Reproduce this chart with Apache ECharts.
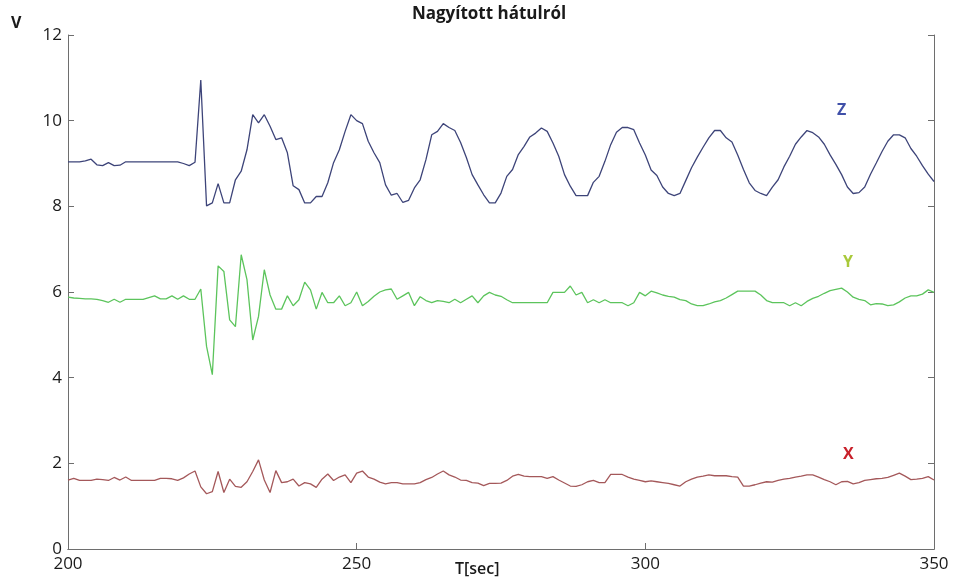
<!DOCTYPE html>
<html>
<head>
<meta charset="utf-8">
<script src="https://cdn.jsdelivr.net/npm/echarts@6/dist/echarts.min.js"></script>
<style>
  html, body { margin: 0; padding: 0; background: #fff; }
  #chart { width: 960px; height: 583px; }
</style>
</head>
<body>
<div id="chart"></div>
<script>
// Sampling grid: one reading per second
const tStart = 200;
const tStep = 1;

// Z channel (V)
const zValues = [
  9.04, 9.04, 9.04, 9.06, 9.10, 8.97, 8.95, 9.02, 8.95, 8.96,
  9.04, 9.04, 9.04, 9.04, 9.04, 9.04, 9.04, 9.04, 9.04, 9.04,
  9.00, 8.95, 9.03, 10.95, 8.01, 8.08, 8.53, 8.08, 8.08, 8.62,
  8.82, 9.32, 10.14, 9.95, 10.14, 9.87, 9.56, 9.60, 9.25, 8.48,
  8.39, 8.08, 8.08, 8.23, 8.23, 8.55, 9.02, 9.32, 9.75, 10.14,
  10.00, 9.93, 9.52, 9.25, 9.02, 8.50, 8.26, 8.30, 8.09, 8.14,
  8.43, 8.62, 9.09, 9.67, 9.75, 9.93, 9.84, 9.77, 9.49, 9.14,
  8.74, 8.50, 8.27, 8.08, 8.08, 8.31, 8.70, 8.86, 9.21, 9.40,
  9.62, 9.71, 9.83, 9.75, 9.48, 9.17, 8.74, 8.47, 8.25, 8.25,
  8.25, 8.56, 8.70, 9.05, 9.44, 9.73, 9.84, 9.84, 9.79, 9.48,
  9.20, 8.85, 8.72, 8.45, 8.30, 8.25, 8.30, 8.60, 8.90, 9.15,
  9.38, 9.60, 9.77, 9.77, 9.60, 9.50, 9.20, 8.86, 8.55, 8.37,
  8.30, 8.25, 8.45, 8.62, 8.92, 9.17, 9.45, 9.62, 9.77, 9.72,
  9.62, 9.45, 9.20, 8.98, 8.74, 8.45, 8.30, 8.32, 8.45, 8.75,
  9.01, 9.28, 9.52, 9.67, 9.67, 9.60, 9.35, 9.17, 8.95, 8.75,
  8.58
];

// Y channel (V)
const yValues = [
  5.88, 5.86, 5.85, 5.84, 5.84, 5.83, 5.80, 5.76, 5.83, 5.76,
  5.83, 5.83, 5.83, 5.83, 5.87, 5.91, 5.84, 5.84, 5.91, 5.83,
  5.91, 5.83, 5.83, 6.07, 4.73, 4.07, 6.61, 6.48, 5.35, 5.19,
  6.87, 6.29, 4.88, 5.43, 6.52, 5.93, 5.60, 5.60, 5.91, 5.68,
  5.82, 6.23, 6.05, 5.60, 5.99, 5.75, 5.75, 5.91, 5.68, 5.75,
  6.00, 5.68, 5.78, 5.90, 6.00, 6.05, 6.07, 5.83, 5.91, 5.99,
  5.68, 5.89, 5.80, 5.75, 5.80, 5.78, 5.75, 5.83, 5.75, 5.83,
  5.91, 5.75, 5.91, 5.99, 5.93, 5.90, 5.82, 5.75, 5.75, 5.75,
  5.75, 5.75, 5.75, 5.75, 5.99, 5.99, 5.99, 6.14, 5.93, 5.99,
  5.75, 5.82, 5.75, 5.82, 5.75, 5.75, 5.75, 5.68, 5.75, 5.99,
  5.91, 6.02, 5.98, 5.93, 5.90, 5.88, 5.82, 5.80, 5.72, 5.68,
  5.68, 5.72, 5.77, 5.80, 5.86, 5.94, 6.02, 6.02, 6.02, 6.02,
  5.93, 5.80, 5.75, 5.75, 5.75, 5.68, 5.75, 5.68, 5.78, 5.85,
  5.90, 5.97, 6.03, 6.06, 6.09, 6.00, 5.88, 5.83, 5.80, 5.70,
  5.73, 5.72, 5.68, 5.70, 5.77, 5.86, 5.91, 5.91, 5.95, 6.05,
  5.99
];

// X channel (V)
const xValues = [
  1.61, 1.65, 1.60, 1.60, 1.60, 1.63, 1.62, 1.60, 1.67, 1.61,
  1.68, 1.60, 1.60, 1.60, 1.60, 1.60, 1.65, 1.65, 1.64, 1.60,
  1.66, 1.75, 1.82, 1.45, 1.29, 1.34, 1.81, 1.32, 1.63, 1.46,
  1.44, 1.57, 1.81, 2.08, 1.61, 1.32, 1.83, 1.55, 1.57, 1.63,
  1.47, 1.55, 1.52, 1.44, 1.63, 1.75, 1.60, 1.68, 1.73, 1.55,
  1.77, 1.82, 1.68, 1.63, 1.56, 1.52, 1.55, 1.55, 1.52, 1.52,
  1.52, 1.55, 1.62, 1.67, 1.75, 1.82, 1.73, 1.68, 1.61, 1.60,
  1.55, 1.54, 1.48, 1.53, 1.53, 1.54, 1.60, 1.70, 1.74, 1.70,
  1.69, 1.69, 1.69, 1.65, 1.69, 1.61, 1.54, 1.47, 1.46, 1.50,
  1.57, 1.60, 1.55, 1.55, 1.74, 1.74, 1.74, 1.68, 1.63, 1.60,
  1.57, 1.59, 1.57, 1.55, 1.53, 1.50, 1.47, 1.57, 1.63, 1.68,
  1.70, 1.73, 1.71, 1.71, 1.71, 1.69, 1.68, 1.47, 1.47, 1.50,
  1.54, 1.57, 1.56, 1.60, 1.63, 1.65, 1.68, 1.70, 1.73, 1.73,
  1.68, 1.62, 1.57, 1.50, 1.57, 1.58, 1.52, 1.55, 1.60, 1.62,
  1.64, 1.65, 1.67, 1.72, 1.77, 1.70, 1.62, 1.63, 1.65, 1.69,
  1.61
];

// Axis settings
const xTicks = [200, 250, 300, 350];
const yMin = 0, yMax = 12, yStep = 2;

const FONT = '"Open Sans", "DejaVu Sans", sans-serif';
const AXIS_COLOR = '#6e6e6e';

function toPairs(values) {
  return values.map((v, i) => [tStart + i * tStep, v]);
}

const chart = echarts.init(document.getElementById('chart'), null, { renderer: 'canvas' });

chart.setOption({
  animation: false,
  backgroundColor: '#ffffff',
  title: {
    text: 'Nagyított hátulról',
    left: 484,
    top: 1,
    textAlign: 'center',
    textStyle: { fontFamily: FONT, fontSize: 17, fontWeight: 'bold', color: '#1a1a1a' }
  },
  grid: { left: 68, right: 26, top: 35, bottom: 34, containLabel: false },
  xAxis: [{
    type: 'value',
    min: xTicks[0],
    max: xTicks[xTicks.length - 1],
    interval: 50,
    position: 'bottom',
    axisLine: { show: true, lineStyle: { color: AXIS_COLOR, width: 1 } },
    axisTick: { show: true, inside: true, length: 6, lineStyle: { color: AXIS_COLOR } },
    axisLabel: { color: '#1a1a1a', fontFamily: FONT, fontSize: 17, margin: 7 },
    splitLine: { show: false }
  }, {
    type: 'value',
    min: xTicks[0],
    max: xTicks[xTicks.length - 1],
    interval: 50,
    position: 'top',
    axisLine: { show: true, lineStyle: { color: AXIS_COLOR, width: 1 } },
    axisTick: { show: false },
    axisLabel: { show: false },
    splitLine: { show: false }
  }],
  yAxis: [{
    type: 'value',
    min: yMin,
    max: yMax,
    interval: yStep,
    position: 'left',
    axisLine: { show: true, lineStyle: { color: AXIS_COLOR, width: 1 } },
    axisTick: { show: true, inside: true, length: 6, lineStyle: { color: AXIS_COLOR } },
    axisLabel: { color: '#1a1a1a', fontFamily: FONT, fontSize: 17, margin: 6 },
    splitLine: { show: false }
  }, {
    type: 'value',
    min: yMin,
    max: yMax,
    interval: yStep,
    position: 'right',
    axisLine: { show: true, lineStyle: { color: AXIS_COLOR, width: 1 } },
    axisTick: { show: true, inside: true, length: 6, lineStyle: { color: AXIS_COLOR } },
    axisLabel: { show: false },
    splitLine: { show: false }
  }],
  series: [{
    name: 'Z',
    type: 'line',
    data: toPairs(zValues),
    showSymbol: false,
    lineStyle: { color: '#3d4479', width: 1.3 },
    z: 3
  }, {
    name: 'Y',
    type: 'line',
    data: toPairs(yValues),
    showSymbol: false,
    lineStyle: { color: '#5cc45c', width: 1.3 },
    z: 3
  }, {
    name: 'X',
    type: 'line',
    data: toPairs(xValues),
    showSymbol: false,
    lineStyle: { color: '#a4585a', width: 1.3 },
    z: 3
  }],
  graphic: [{
    type: 'text',
    left: 11, top: 15,
    style: { text: 'V', fontFamily: FONT, fontSize: 16, fontWeight: 'bold', fill: '#1a1a1a' }
  }, {
    type: 'text',
    left: 455, top: 561,
    style: { text: 'T[sec]', fontFamily: FONT, fontSize: 16, fontWeight: 600, fill: '#1a1a1a' }
  }, {
    type: 'text',
    left: 837, top: 102,
    style: { text: 'Z', fontFamily: FONT, fontSize: 16, fontWeight: 'bold', fill: '#4050a8' }
  }, {
    type: 'text',
    left: 843, top: 254,
    style: { text: 'Y', fontFamily: FONT, fontSize: 16, fontWeight: 'bold', fill: '#a9c93a' }
  }, {
    type: 'text',
    left: 843, top: 446,
    style: { text: 'X', fontFamily: FONT, fontSize: 16, fontWeight: 'bold', fill: '#c8202a' }
  }]
});
</script>
</body>
</html>
